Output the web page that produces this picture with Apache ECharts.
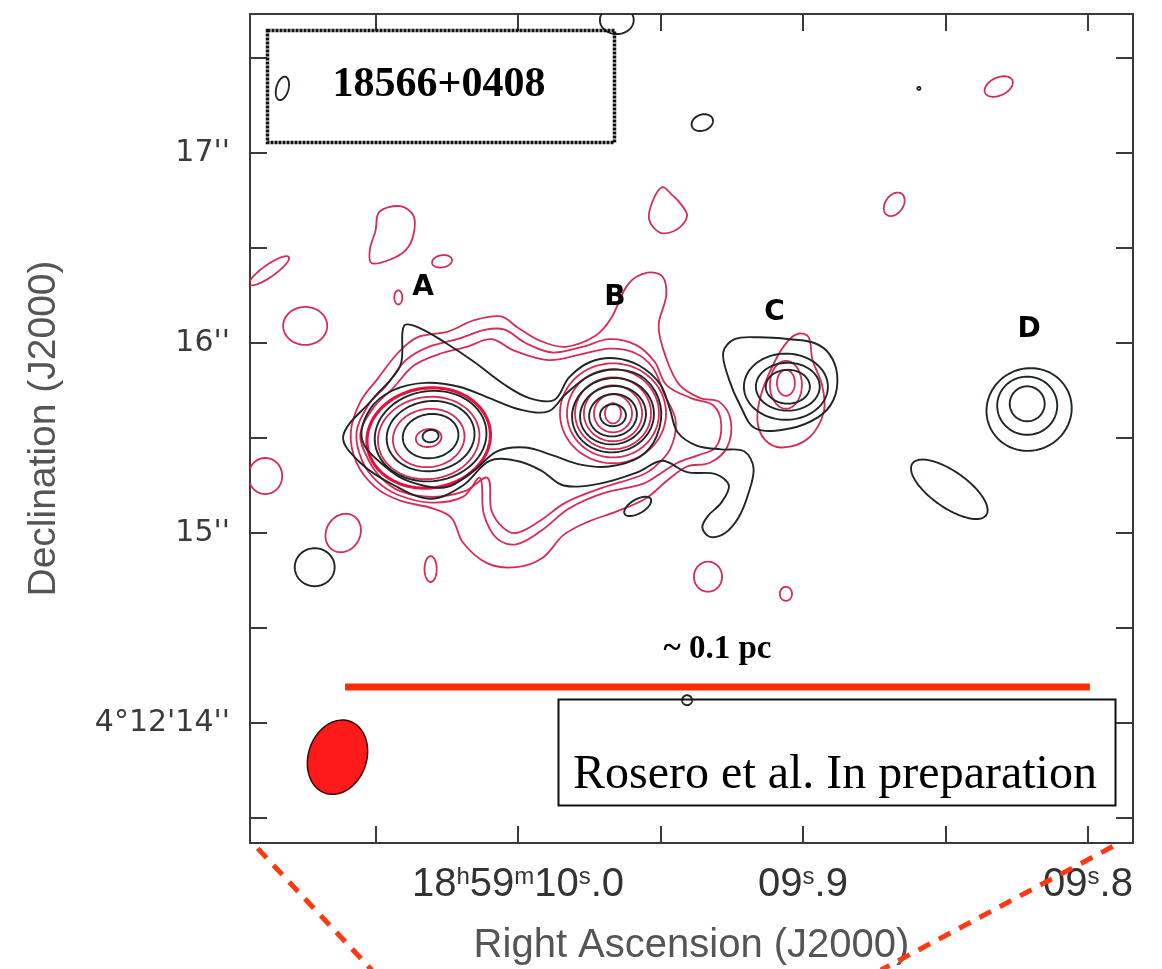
<!DOCTYPE html>
<html>
<head>
<meta charset="utf-8">
<script src="https://cdn.jsdelivr.net/npm/echarts@6/dist/echarts.min.js"></script>
<style>
  html, body { margin: 0; padding: 0; background: #fff; }
  #chart { width: 1162px; height: 969px; }
</style>
</head>
<body>
<div id="chart"></div>
<script>
// Coordinates: x = westward offset (arcsec) from RA 18h59m10.0s, y = Dec arcsec past +4°12'.
const RA_ZERO_SEC = 10.0;
const ARCSEC_PER_RA_SEC = 15;

const raTickSec = [10.05, 10.0, 9.95, 9.9, 9.85, 9.8];
const raLabelSec = [10.0, 9.9, 9.8];
const decTicks = [13.5, 14, 14.5, 15, 15.5, 16, 16.5, 17, 17.5];
const decLabels = [14, 15, 16, 17];
const xRange = [-1.4105, 3.2368];
const yRange = [13.3684, 17.7316];

// Ellipse-shaped contours: [x, y, semi-axis x, semi-axis y, position angle deg]
const blackRings = [
  // A
  [-0.46, 15.51, 0.042, 0.032, 8], [-0.46, 15.51, 0.147, 0.116, 8],
  [-0.46, 15.51, 0.232, 0.184, 8], [-0.46, 15.51, 0.295, 0.237, 8],
  // B
  [0.50, 15.62, 0.068, 0.058, 0], [0.50, 15.62, 0.126, 0.111, 10],
  [0.50, 15.62, 0.174, 0.153, 10], [0.50, 15.62, 0.216, 0.195, 10],
  // C
  [1.42, 15.77, 0.116, 0.089, 0], [1.42, 15.77, 0.168, 0.126, 0], [1.41, 15.77, 0.221, 0.174, 0],
  // D
  [2.68, 15.68, 0.092, 0.092, 0], [2.68, 15.67, 0.158, 0.153, 0], [2.69, 15.65, 0.226, 0.216, 25],
  // isolated
  [-1.24, 17.34, 0.032, 0.063, -15], [0.52, 17.70, 0.089, 0.074, 0], [0.97, 17.16, 0.058, 0.042, 20],
  [-1.07, 14.82, 0.105, 0.100, 0], [0.63, 15.14, 0.079, 0.037, 30], [2.27, 15.23, 0.237, 0.095, -35],
  [0.89, 14.12, 0.026, 0.026, 0], [2.11, 17.34, 0.008, 0.008, 0]
];

const redRings = [
  // A
  [-0.47, 15.50, 0.068, 0.047, 8], [-0.47, 15.50, 0.189, 0.153, 8], [-0.47, 15.50, 0.268, 0.216, 8],
  // B
  [0.50, 15.63, 0.042, 0.053, 0], [0.50, 15.63, 0.100, 0.100, 0], [0.50, 15.63, 0.153, 0.147, 0],
  [0.50, 15.63, 0.200, 0.189, 0], [0.50, 15.63, 0.242, 0.232, 0], [0.50, 15.63, 0.279, 0.263, 0],
  // C
  [1.41, 15.78, 0.084, 0.126, 0], [1.41, 15.79, 0.047, 0.068, 0],
  // isolated
  [2.53, 17.35, 0.079, 0.047, 25], [1.98, 16.73, 0.068, 0.047, 55], [-0.40, 16.43, 0.053, 0.032, 10],
  [-0.63, 16.24, 0.021, 0.037, 0], [-1.31, 16.38, 0.126, 0.032, 35], [-1.12, 16.09, 0.116, 0.100, 0],
  [-1.33, 15.30, 0.089, 0.095, 0], [-0.92, 15.00, 0.105, 0.089, 60], [-0.46, 14.81, 0.032, 0.068, 0],
  [1.00, 14.77, 0.074, 0.079, 0], [1.41, 14.68, 0.032, 0.037, 0]
];

const redRingsBright = [[-0.47, 15.50, 0.326, 0.263, 8]];

// Irregular contours (closed outlines)
const blackOuter = [[-0.92,15.51],[-0.77,15.70],[-0.62,15.88],[-0.60,16.09],[-0.52,16.08],[-0.38,16.00],[-0.23,15.90],[-0.07,15.78],[0.06,15.71],[0.19,15.70],[0.27,15.82],[0.38,15.90],[0.51,15.92],[0.64,15.88],[0.75,15.78],[0.80,15.65],[0.84,15.53],[0.94,15.46],[1.07,15.44],[1.19,15.43],[1.24,15.34],[1.21,15.20],[1.16,15.08],[1.09,15.00],[1.01,14.98],[0.97,15.03],[1.00,15.09],[1.07,15.16],[1.11,15.25],[1.04,15.31],[0.89,15.32],[0.76,15.38],[0.63,15.32],[0.43,15.26],[0.24,15.25],[0.12,15.33],[-0.01,15.38],[-0.15,15.38],[-0.29,15.25],[-0.46,15.18],[-0.65,15.25],[-0.83,15.37]];
const blackInner = [[-0.82,15.49],[-0.78,15.65],[-0.66,15.75],[-0.49,15.79],[-0.31,15.77],[-0.15,15.71],[0.01,15.65],[0.16,15.64],[0.25,15.73],[0.38,15.83],[0.53,15.86],[0.67,15.81],[0.75,15.67],[0.73,15.51],[0.64,15.40],[0.48,15.35],[0.33,15.36],[0.18,15.41],[0.04,15.45],[-0.11,15.43],[-0.23,15.33],[-0.38,15.24],[-0.57,15.27],[-0.70,15.35]];
const blackC = [[1.08,15.95],[1.14,16.02],[1.27,16.03],[1.43,16.02],[1.56,16.00],[1.64,15.94],[1.68,15.83],[1.66,15.70],[1.58,15.61],[1.43,15.55],[1.25,15.55],[1.17,15.67],[1.11,15.81]];

const redOuter = [[-0.88,15.53],[-0.83,15.69],[-0.74,15.81],[-0.63,15.95],[-0.53,16.03],[-0.37,16.06],[-0.23,16.12],[-0.09,16.14],[0.00,16.08],[0.12,16.01],[0.25,15.98],[0.41,16.04],[0.49,16.13],[0.58,16.31],[0.68,16.37],[0.76,16.35],[0.78,16.25],[0.74,16.09],[0.78,15.92],[0.85,15.78],[0.96,15.71],[1.06,15.69],[1.12,15.59],[1.10,15.45],[1.01,15.37],[0.89,15.35],[0.79,15.28],[0.67,15.18],[0.51,15.11],[0.37,15.06],[0.24,14.99],[0.13,14.87],[-0.01,14.82],[-0.16,14.84],[-0.29,14.95],[-0.35,15.08],[-0.45,15.13],[-0.62,15.17],[-0.75,15.24],[-0.85,15.37]];
const redMid = [[-0.85,15.53],[-0.79,15.67],[-0.69,15.78],[-0.59,15.91],[-0.47,15.98],[-0.32,16.02],[-0.17,16.07],[-0.07,16.07],[0.04,16.00],[0.18,15.95],[0.34,15.98],[0.48,16.02],[0.62,15.99],[0.72,15.90],[0.78,15.78],[0.91,15.71],[1.03,15.67],[1.07,15.57],[1.04,15.45],[0.95,15.41],[0.84,15.37],[0.76,15.32],[0.66,15.26],[0.45,15.21],[0.27,15.13],[0.12,15.01],[-0.01,14.94],[-0.11,14.97],[-0.18,15.10],[-0.20,15.29],[-0.29,15.19],[-0.46,15.16],[-0.63,15.20],[-0.74,15.27],[-0.82,15.38]];
const redInner = [[-0.83,15.52],[-0.76,15.66],[-0.66,15.76],[-0.55,15.88],[-0.42,15.94],[-0.27,15.98],[-0.14,16.02],[-0.02,15.96],[0.16,15.91],[0.33,15.94],[0.48,15.97],[0.61,15.95],[0.71,15.87],[0.77,15.73],[0.83,15.59],[0.80,15.44],[0.71,15.34],[0.64,15.30],[0.45,15.24],[0.25,15.16],[0.11,15.06],[-0.01,15.00],[-0.08,15.03],[-0.14,15.12],[-0.16,15.29],[-0.28,15.22],[-0.45,15.19],[-0.62,15.22],[-0.72,15.29],[-0.79,15.39]];
const redC = [[1.48,16.05],[1.42,16.01],[1.35,15.90],[1.28,15.73],[1.26,15.59],[1.30,15.49],[1.39,15.45],[1.53,15.50],[1.61,15.64],[1.60,15.78],[1.55,15.91],[1.53,16.03]];
const redBlobNW = [[-0.73,16.69],[-0.62,16.72],[-0.55,16.67],[-0.55,16.57],[-0.59,16.49],[-0.67,16.44],[-0.77,16.42],[-0.78,16.49],[-0.75,16.59]];
const redBlobN = [[0.76,16.82],[0.71,16.75],[0.69,16.65],[0.75,16.58],[0.84,16.60],[0.89,16.67],[0.85,16.74],[0.81,16.78]];

const beam = [[-0.95, 13.82, 0.153, 0.200, -19]];
const scaleBar = [[-0.91, 14.19], [3.01, 14.19]];
const scaleBarMid = [1.05, 14.19];
const scaleText = '~ 0.1 pc';
const sourceNames = ['A', 'B', 'C', 'D'];
const sourceLabelPos = [[-0.50, 16.29], [0.51, 16.24], [1.35, 16.16], [2.69, 16.07]];
const guideLeft = [[-1.37, 13.34], [-0.77, 12.70]];
const guideRight = [[3.13, 13.35], [1.91, 12.70]];

const raOffset = s => +((RA_ZERO_SEC - s) * ARCSEC_PER_RA_SEC).toFixed(4);

function raLabel(val) {
  const s = Math.round((RA_ZERO_SEC - val / ARCSEC_PER_RA_SEC) * 10) / 10;
  if (s === 10) return '18{h|h}59{h|m}10{h|s}.0';
  return '09{h|s}.' + Math.round((s - 9) * 10);
}

function ellipsePoints(api) {
  const x = api.value(0), y = api.value(1);
  const c = api.coord([x, y]);
  const rx = api.coord([x + api.value(2), y])[0] - c[0];
  const ry = c[1] - api.coord([x, y + api.value(3)])[1];
  const a = api.value(4) * Math.PI / 180;
  const pts = [];
  for (let k = 0; k < 96; k++) {
    const t = (k / 96) * Math.PI * 2;
    const ex = rx * Math.cos(t), ey = ry * Math.sin(t);
    pts.push([c[0] + ex * Math.cos(a) - ey * Math.sin(a), c[1] - (ex * Math.sin(a) + ey * Math.cos(a))]);
  }
  return pts;
}

function ringSeries(rings, stroke, width, fill) {
  return {
    type: 'custom', coordinateSystem: 'cartesian2d', clip: true, silent: true,
    dimensions: ['x', 'y', 'rx', 'ry', 'pa'], encode: { x: 0, y: 1 },
    data: rings,
    renderItem: (params, api) => ({
      type: 'polygon',
      shape: { points: ellipsePoints(api) },
      style: { fill: fill || 'none', stroke: stroke, lineWidth: width }
    })
  };
}

function contourSeries(paths, stroke, width) {
  return {
    type: 'custom', coordinateSystem: 'cartesian2d', clip: true, silent: true,
    encode: { x: 0, y: 1 },
    data: paths.map(p => p[0]),
    renderItem: (params, api) => ({
      type: 'polygon',
      shape: { points: paths[params.dataIndex].map(p => api.coord(p)), smooth: 0.35 },
      style: { fill: 'none', stroke: stroke, lineWidth: width }
    })
  };
}

const RED = '#d42c55';
const BLACK = '#1f2723';
const FRAME = '#3a3a3a';

const tickStyle = { inside: true, length: 17, lineStyle: { color: FRAME, width: 2 } };
const lineStyleFrame = { onZero: false, lineStyle: { color: FRAME, width: 2 } };
const hiddenPoint = { color: 'rgba(0,0,0,0)', opacity: 1 };

const chart = echarts.init(document.getElementById('chart'), null, { renderer: 'canvas' });

chart.setOption({
  animation: false,
  backgroundColor: '#ffffff',
  grid: { left: 250, right: 29, top: 14, bottom: 126, containLabel: false, outerBoundsMode: 'none' },
  xAxis: [{
    type: 'value', position: 'bottom', min: xRange[0], max: xRange[1],
    axisLine: lineStyleFrame,
    axisTick: Object.assign({ customValues: raTickSec.map(raOffset) }, tickStyle),
    splitLine: { show: false },
    axisLabel: {
      customValues: raLabelSec.map(raOffset),
      formatter: raLabel, margin: 22,
      fontFamily: 'Liberation Sans', fontSize: 40, color: '#333',
      rich: { h: { fontFamily: 'Liberation Sans', fontSize: 24, color: '#333', verticalAlign: 'top' } }
    },
    name: 'Right Ascension (J2000)', nameLocation: 'middle', nameGap: 83,
    nameTextStyle: { fontFamily: 'Liberation Sans', fontSize: 40, color: '#555' }
  }, {
    type: 'value', position: 'top', min: xRange[0], max: xRange[1],
    axisLine: lineStyleFrame,
    axisTick: Object.assign({ customValues: raTickSec.map(raOffset) }, tickStyle),
    axisLabel: { show: false }, splitLine: { show: false }
  }],
  yAxis: [{
    type: 'value', position: 'left', min: yRange[0], max: yRange[1],
    axisLine: lineStyleFrame,
    axisTick: Object.assign({ customValues: decTicks }, tickStyle),
    splitLine: { show: false },
    axisLabel: {
      customValues: decLabels, margin: 20,
      formatter: v => (v === 14 ? "4°12'14''" : v + "''"),
      fontFamily: 'DejaVu Sans', fontSize: 30, color: '#3a3a3a'
    },
    name: 'Declination (J2000)', nameLocation: 'middle', nameRotate: 90, nameGap: 186,
    nameTextStyle: { fontFamily: 'Liberation Sans', fontSize: 39, color: '#555' }
  }, {
    type: 'value', position: 'right', min: yRange[0], max: yRange[1],
    axisLine: lineStyleFrame,
    axisTick: Object.assign({ customValues: decTicks }, tickStyle),
    axisLabel: { show: false }, splitLine: { show: false }
  }],
  graphic: [
    { type: 'rect', left: 265, top: 28, shape: { width: 347, height: 112 },
      style: { fill: 'none', stroke: '#111', lineWidth: 3.5, lineDash: [3, 1] }, z: 20 },
    { type: 'text', x: 439, y: 85, z: 20,
      style: { text: '18566+0408', font: 'bold 42px "Liberation Serif"', fill: '#000', align: 'center', verticalAlign: 'middle' } },
    { type: 'rect', left: 556, top: 697, shape: { width: 557, height: 106 },
      style: { fill: 'none', stroke: '#111', lineWidth: 2 }, z: 20 },
    { type: 'text', x: 835, y: 775, z: 20,
      style: { text: 'Rosero et al. In preparation', font: '48px "Liberation Serif"', fill: '#000', align: 'center', verticalAlign: 'middle' } }
  ],
  series: [
    ringSeries(redRings, RED, 1.8),
    ringSeries(redRingsBright, '#e4123f', 3.2),
    contourSeries([redOuter, redMid, redInner, redC, redBlobNW, redBlobN], RED, 1.8),
    ringSeries(blackRings, BLACK, 1.9),
    contourSeries([blackOuter, blackInner, blackC], BLACK, 1.9),
    ringSeries(beam, '#3a0606', 1.5, '#ff1a1a'),
    {
      type: 'line', data: scaleBar, symbol: 'none', silent: true,
      lineStyle: { color: '#ff2a00', width: 7 }
    },
    {
      type: 'scatter', data: [{ value: scaleBarMid, name: scaleText }], symbolSize: 1, silent: true,
      itemStyle: hiddenPoint,
      label: { show: true, position: 'top', distance: 20, formatter: '{b}',
        fontFamily: 'Liberation Serif', fontWeight: 'bold', fontSize: 33, color: '#000' }
    },
    {
      type: 'scatter', symbolSize: 1, silent: true,
      data: sourceNames.map((n, i) => ({ name: n, value: sourceLabelPos[i] })),
      itemStyle: hiddenPoint,
      label: { show: true, position: 'inside', formatter: '{b}',
        fontFamily: 'DejaVu Sans', fontWeight: 'bold', fontSize: 28, color: '#000' }
    },
    {
      type: 'line', data: guideLeft, symbol: 'none', clip: false, silent: true,
      lineStyle: { color: '#ff3a10', width: 5, type: [13, 10] }
    },
    {
      type: 'line', data: guideRight, symbol: 'none', clip: false, silent: true,
      lineStyle: { color: '#ff3a10', width: 5, type: [13, 10] }
    }
  ]
});
</script>
</body>
</html>
